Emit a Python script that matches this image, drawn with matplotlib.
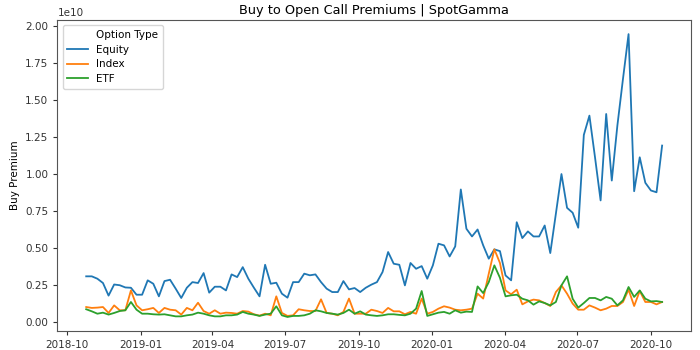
import numpy as np
import pandas as pd
import matplotlib
matplotlib.use("Agg")
import matplotlib.pyplot as plt
import matplotlib.dates as mdates
from matplotlib.lines import Line2D

SCALE = 1e10
start_date = "2018-10-25"

equity = [0.31, 0.31, 0.294, 0.265, 0.18, 0.255, 0.25, 0.235, 0.233, 0.186,
          0.186, 0.283, 0.26, 0.175, 0.278, 0.287, 0.227, 0.164, 0.233, 0.271,
          0.265, 0.332, 0.20, 0.24, 0.24, 0.215, 0.323, 0.305, 0.372, 0.294,
          0.233, 0.175, 0.388, 0.26, 0.267, 0.193, 0.166, 0.271, 0.271, 0.328,
          0.317, 0.323, 0.271, 0.227, 0.204, 0.204, 0.278, 0.222, 0.231, 0.204,
          0.233, 0.254, 0.271, 0.339, 0.474, 0.395, 0.388, 0.249, 0.40, 0.361,
          0.379, 0.294, 0.384, 0.53, 0.519, 0.444, 0.512, 0.896, 0.631, 0.579,
          0.626, 0.519, 0.429, 0.492, 0.48, 0.316, 0.283, 0.675, 0.568, 0.613,
          0.579, 0.579, 0.653, 0.467, 0.732, 1.0, 0.772, 0.739, 0.638, 1.264,
          1.394, 1.113, 0.822, 1.405, 0.956, 1.327, 1.641, 1.944, 0.884, 1.113,
          0.941, 0.889, 0.877, 1.192]

index = [0.103, 0.097, 0.099, 0.103, 0.063, 0.114, 0.081, 0.081, 0.215, 0.114,
         0.081, 0.088, 0.097, 0.063, 0.097, 0.085, 0.081, 0.052, 0.097, 0.081,
         0.132, 0.076, 0.058, 0.081, 0.058, 0.065, 0.063, 0.058, 0.076, 0.072,
         0.054, 0.045, 0.058, 0.047, 0.175, 0.063, 0.043, 0.047, 0.088, 0.081,
         0.076, 0.076, 0.155, 0.063, 0.058, 0.047, 0.070, 0.160, 0.058, 0.058,
         0.058, 0.085, 0.076, 0.063, 0.097, 0.074, 0.074, 0.054, 0.070, 0.058,
         0.160, 0.058, 0.070, 0.092, 0.108, 0.099, 0.085, 0.081, 0.085, 0.092,
         0.193, 0.160, 0.328, 0.492, 0.40, 0.215, 0.189, 0.220, 0.121, 0.141,
         0.153, 0.148, 0.130, 0.110, 0.204, 0.249, 0.193, 0.126, 0.085, 0.085,
         0.114, 0.099, 0.081, 0.092, 0.110, 0.110, 0.137, 0.220, 0.110, 0.211,
         0.137, 0.137, 0.121, 0.137]

etf = [0.088, 0.074, 0.058, 0.065, 0.052, 0.063, 0.076, 0.081, 0.137, 0.085,
       0.058, 0.058, 0.054, 0.052, 0.054, 0.047, 0.040, 0.040, 0.047, 0.052,
       0.065, 0.058, 0.047, 0.040, 0.040, 0.047, 0.047, 0.052, 0.070, 0.058,
       0.052, 0.043, 0.052, 0.058, 0.108, 0.047, 0.036, 0.043, 0.043, 0.047,
       0.058, 0.081, 0.074, 0.063, 0.058, 0.052, 0.063, 0.085, 0.058, 0.074,
       0.052, 0.047, 0.043, 0.047, 0.054, 0.054, 0.050, 0.047, 0.058, 0.092,
       0.211, 0.043, 0.054, 0.065, 0.070, 0.058, 0.081, 0.065, 0.072, 0.070,
       0.242, 0.197, 0.271, 0.384, 0.30, 0.175, 0.182, 0.186, 0.159, 0.148,
       0.119, 0.141, 0.130, 0.114, 0.137, 0.249, 0.310, 0.159, 0.099, 0.130,
       0.164, 0.164, 0.148, 0.171, 0.159, 0.114, 0.148, 0.238, 0.171, 0.215,
       0.159, 0.141, 0.143, 0.137]

series_names = ["Equity", "Index", "ETF"]
legend_title = "Option Type"
title = "Buy to Open Call Premiums | SpotGamma"
ylabel = "Buy Premium"

dates = pd.date_range(start_date, periods=len(equity), freq="7D")

fig = plt.figure(figsize=(7, 3.5), dpi=100)
ax = fig.add_axes([0.082, 0.054, 0.905, 0.889])

colors = ["#1f77b4", "#ff7f0e", "#2ca02c"]
for name, vals, c in zip(series_names, [equity, index, etf], colors):
    ax.plot(dates, np.array(vals) * SCALE, color=c, lw=1.3, label=name)

ax.xaxis.set_major_locator(mdates.MonthLocator(bymonth=[1, 4, 7, 10]))
ax.xaxis.set_major_formatter(mdates.DateFormatter("%Y-%m"))
ax.tick_params(labelsize=7.5, length=3, width=0.8, colors="#333333")
for s in ax.spines.values():
    s.set_linewidth(0.8)
    s.set_color("#555555")
ax.yaxis.get_offset_text().set_fontsize(7.5)
ax.set_ylabel(ylabel, fontsize=7.5)
ax.set_title(title, fontsize=9.3, pad=4)

handles, labels = ax.get_legend_handles_labels()
blank = Line2D([], [], color="none")
ax.legend([blank] + handles, [legend_title] + labels, loc="upper left",
          fontsize=7.5, handlelength=2.0, borderpad=0.45, labelspacing=0.45)

fig.savefig("out.png", dpi=100)
